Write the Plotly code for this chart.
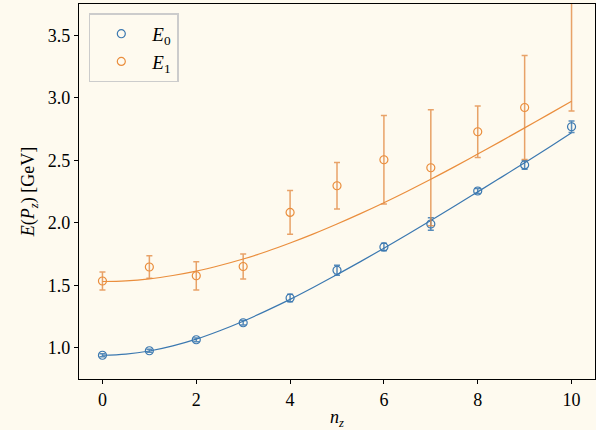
import plotly.graph_objects as go

# data points
n_pts = [0, 1, 2, 3, 4, 5, 6, 7, 8, 9, 10]
E0 = [0.940, 0.976, 1.064, 1.200, 1.398, 1.620, 1.807, 1.990, 2.254, 2.463, 2.768]
E0_err = [0.012, 0.012, 0.015, 0.018, 0.030, 0.040, 0.030, 0.050, 0.020, 0.035, 0.046]
E1 = [1.534, 1.646, 1.576, 1.650, 2.083, 2.296, 2.504, 2.440, 2.728, 2.922, 3.900]
E1_err = [0.072, 0.090, 0.113, 0.100, 0.175, 0.186, 0.354, 0.464, 0.206, 0.417, 1.006]

# fitted curves
n_fit = [0, 0.5, 1, 1.5, 2, 2.5, 3, 3.5, 4, 4.5, 5, 5.5, 6, 6.5, 7, 7.5, 8, 8.5, 9, 9.5, 10]
E0_fit = [0.940, 0.949, 0.974, 1.015, 1.069, 1.136, 1.212, 1.297, 1.387, 1.484, 1.585, 1.689,
          1.796, 1.906, 2.018, 2.132, 2.247, 2.363, 2.480, 2.598, 2.720]
E1_fit = [1.530, 1.535, 1.551, 1.578, 1.613, 1.658, 1.710, 1.770, 1.838, 1.911, 1.990, 2.073,
          2.160, 2.252, 2.348, 2.447, 2.550, 2.653, 2.759, 2.865, 2.972]

blue = "#3b78b0"
orange = "#ea8e3d"
bg = "#fefaef"
serif = "Liberation Serif"

fig = go.Figure()

fig.add_trace(go.Scatter(x=n_fit, y=E0_fit, mode="lines", line=dict(color=blue, width=1.2, shape="spline"),
                         showlegend=False, hoverinfo="skip"))
fig.add_trace(go.Scatter(x=n_fit, y=E1_fit, mode="lines", line=dict(color=orange, width=1.2, shape="spline"),
                         showlegend=False, hoverinfo="skip"))

fig.add_trace(go.Scatter(
    x=n_pts, y=E0, mode="markers", name="<i>E</i><sub>0</sub>",
    marker=dict(symbol="circle-open", size=8, color=blue, line=dict(width=1.2, color=blue)),
    error_y=dict(type="data", array=E0_err, visible=True, color="rgba(59,120,176,0.85)", thickness=1.5, width=3),
))
fig.add_trace(go.Scatter(
    x=n_pts, y=E1, mode="markers", name="<i>E</i><sub>1</sub>",
    marker=dict(symbol="circle-open", size=8, color=orange, line=dict(width=1.2, color=orange)),
    error_y=dict(type="data", array=E1_err, visible=True, color="rgba(226,140,70,0.8)", thickness=1.5, width=3),
))

axis_common = dict(
    showline=True, linecolor="black", linewidth=1.2, mirror=True,
    ticks="outside", ticklen=4, tickwidth=1, tickcolor="black",
    showgrid=False, zeroline=False,
    tickfont=dict(family=serif, size=18, color="black"),
)

fig.update_layout(
    width=596, height=430,
    margin=dict(l=79, r=1, t=4, b=51),
    paper_bgcolor=bg, plot_bgcolor=bg,
    font=dict(family=serif, size=18, color="black"),
    xaxis=dict(range=[-0.5, 10.5], tickvals=[0, 2, 4, 6, 8, 10],
               title=dict(text="<i>n</i><sub><i>z</i></sub>", standoff=4,
                          font=dict(family=serif, size=18)),
               **axis_common),
    yaxis=dict(range=[0.75, 3.75], tickvals=[1.0, 1.5, 2.0, 2.5, 3.0, 3.5], tickformat=".1f",
               title=dict(text="<i>E</i>(<i>P</i><sub><i>z</i></sub>) [GeV]", standoff=8,
                          font=dict(family=serif, size=18)),
               **axis_common),
    legend=dict(x=0.019, y=0.975, xanchor="left", yanchor="top",
                bgcolor=bg, bordercolor="#cccccc", borderwidth=1.5,
                itemwidth=52,
                font=dict(family=serif, size=19)),
    showlegend=True,
)

fig.write_html("out.html", config={"displayModeBar": False},
               post_script="document.body.style.margin='0';")
